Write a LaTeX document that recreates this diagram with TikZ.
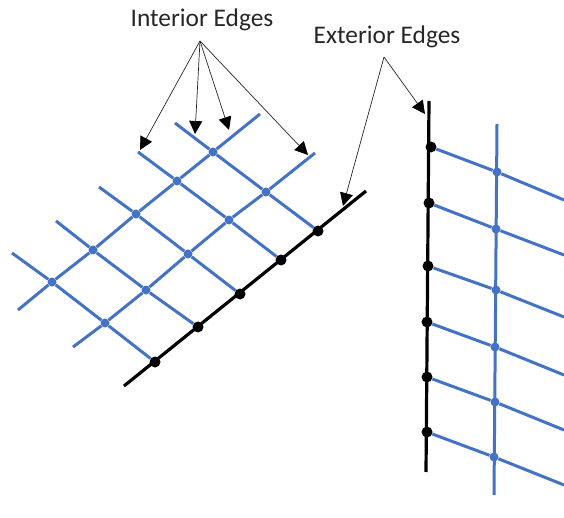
\documentclass[tikz,border=0pt]{standalone}
\usepackage{xcolor}
\usepackage{fontspec}
\setmainfont{Carlito}
\usetikzlibrary{arrows.meta}
\definecolor{edgeblue}{HTML}{4472C4}
\definecolor{edgeink}{HTML}{262626}

\begin{document}
\begin{tikzpicture}[
        x=1pt, y=-1pt,
        title/.style={font=\fontsize{25.4}{28}\selectfont, text=edgeink, inner sep=0pt},
        bluedot/.style={circle, fill=edgeblue, inner sep=0pt, minimum size=9pt},
        blackdot/.style={circle, fill=black, inner sep=0pt, minimum size=11pt},
        blueedge/.style={edgeblue, line width=3pt},
        blackedge/.style={black, line width=3.2pt},
        pointer/.style={-{Triangle[length=13pt, width=13pt, color=black]}, edgeink, line width=0.7pt}
    ]
        \useasboundingbox (0,0) rectangle (564,518);

        \node (interior) [title] at (202,20) {Interior Edges};
        \node (exterior) [title] at (387,37) {Exterior Edges};
        \coordinate (interiorapex) at (200,41);
        \coordinate (exteriorapex) at (384,57);

        % left patch
        \node (a1) [bluedot] at (52,282) {};
        \node (a2) [bluedot] at (93,250) {};
        \node (a3) [bluedot] at (136,214) {};
        \node (a4) [bluedot] at (177,181) {};
        \node (a5) [bluedot] at (213,152) {};
        \node (b1) [bluedot] at (105,323) {};
        \node (b2) [bluedot] at (146,290) {};
        \node (b3) [bluedot] at (188,254) {};
        \node (b4) [bluedot] at (229,220) {};
        \node (b5) [bluedot] at (266,192) {};
        \node (c1) [blackdot] at (155,362) {};
        \node (c2) [blackdot] at (198,327) {};
        \node (c3) [blackdot] at (240,294) {};
        \node (c4) [blackdot] at (281,260) {};
        \node (c5) [blackdot] at (318,231) {};

        \coordinate (n1) at (12,253);
        \coordinate (n2) at (56,221);
        \coordinate (n3) at (99,187);
        \coordinate (n4) at (138,152);
        \coordinate (n5) at (175,123);
        \coordinate (as) at (18,310);
        \coordinate (ae) at (260,114);
        \coordinate (bs) at (73,347);
        \coordinate (be) at (315,153);
        \coordinate (cs) at (124,386);
        \coordinate (ce) at (366,191);

        \draw [blueedge] (n1) -- (a1) -- (b1) -- (c1);
        \draw [blueedge] (n2) -- (a2) -- (b2) -- (c2);
        \draw [blueedge] (n3) -- (a3) -- (b3) -- (c3);
        \draw [blueedge] (n4) -- (a4) -- (b4) -- (c4);
        \draw [blueedge] (n5) -- (a5) -- (b5) -- (c5);
        \draw [blueedge] (as) -- (a1) -- (a2) -- (a3) -- (a4) -- (a5) -- (ae);
        \draw [blueedge] (bs) -- (b1) -- (b2) -- (b3) -- (b4) -- (b5) -- (be);
        \draw [blackedge] (cs) -- (ce);

        % right patch
        \node (p1) [blackdot] at (431,147) {};
        \node (p2) [blackdot] at (429,203) {};
        \node (p3) [blackdot] at (428,266) {};
        \node (p4) [blackdot] at (427,322) {};
        \node (p5) [blackdot] at (427,377) {};
        \node (p6) [blackdot] at (427,432) {};
        \node (q1) [bluedot] at (497,172) {};
        \node (q2) [bluedot] at (496,229) {};
        \node (q3) [bluedot] at (496,290) {};
        \node (q4) [bluedot] at (495,347) {};
        \node (q5) [bluedot] at (495,402) {};
        \node (q6) [bluedot] at (494,457) {};

        \coordinate (r1) at (564,200);
        \coordinate (r2) at (564,255);
        \coordinate (r3) at (564,317);
        \coordinate (r4) at (564,375);
        \coordinate (r5) at (564,430);
        \coordinate (r6) at (564,485);
        \coordinate (ps) at (429,101);
        \coordinate (pe) at (426,472);
        \coordinate (qs) at (497,124);
        \coordinate (qe) at (494,495);

        \draw [blueedge] (p1) -- (q1) -- (r1);
        \draw [blueedge] (p2) -- (q2) -- (r2);
        \draw [blueedge] (p3) -- (q3) -- (r3);
        \draw [blueedge] (p4) -- (q4) -- (r4);
        \draw [blueedge] (p5) -- (q5) -- (r5);
        \draw [blueedge] (p6) -- (q6) -- (r6);
        \draw [blueedge] (qs) -- (qe);
        \draw [blackedge] (ps) -- (pe);

        % pointers
        \coordinate (t1) at (140,150);
        \coordinate (t2) at (195,134);
        \coordinate (t3) at (229,130);
        \coordinate (t4) at (308,155);
        \coordinate (t5) at (343,206);
        \coordinate (t6) at (425,114);

        \draw [pointer] (interiorapex) -- (t1);
        \draw [pointer] (interiorapex) -- (t2);
        \draw [pointer] (interiorapex) -- (t3);
        \draw [pointer] (interiorapex) -- (t4);
        \draw [pointer] (exteriorapex) -- (t5);
        \draw [pointer] (exteriorapex) -- (t6);
    \end{tikzpicture}
\end{document}
